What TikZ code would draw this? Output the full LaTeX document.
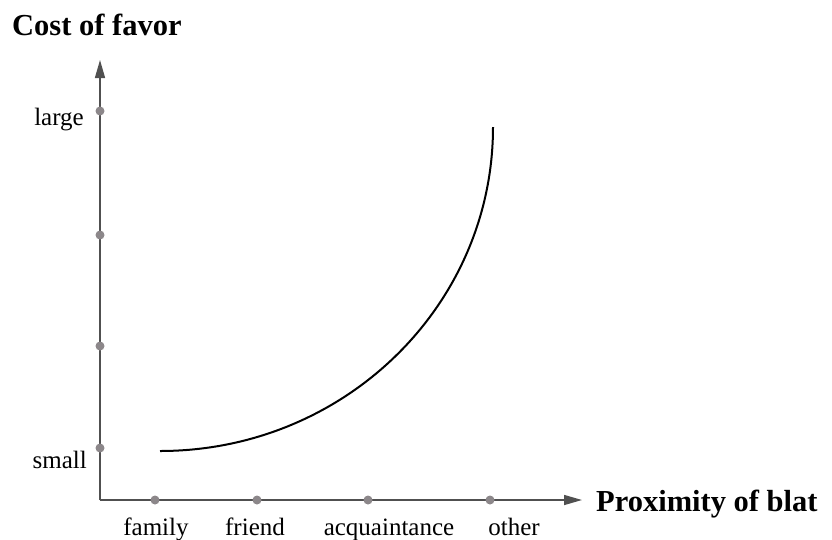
\documentclass[tikz,border=0pt]{standalone}
\usepackage{fontspec}
\setmainfont{Liberation Serif}
\usepackage{tikz}
\usetikzlibrary{arrows.meta}
\definecolor{axisgray}{RGB}{80,80,80}
\definecolor{dotgray}{RGB}{140,135,138}

\begin{document}
\begin{tikzpicture}[x=1pt,y=-1pt,
  axis/.style={line width=1.5pt,draw=axisgray,-{Triangle[length=18pt,width=10pt]}},
  tick/.style={circle,fill=dotgray,inner sep=0pt,minimum size=9pt},
  lab/.style={font=\fontsize{25}{28}\selectfont,inner sep=0pt,anchor=base},
  ttl/.style={font=\fontsize{30.5}{34}\selectfont\bfseries,inner sep=0pt,anchor=base west}]
\useasboundingbox (0,0) rectangle (832,539);

 \coordinate (o) at (100,500);
 \coordinate (ytop) at (100,60);
 \coordinate (xend) at (582,500);

\coordinate (C0) at (160,451);
\coordinate (C1) at (493,127);

\draw[axis] (o)--(ytop);
\draw[axis] (o)--(xend);

\node [tick] (yl) at (100,111) {};
\node [tick] (y2) at (100,235) {};
\node [tick] (y3) at (100,346) {};
\node [tick] (ys) at (100,448) {};

\node [tick] (xfam) at (155,500) {};
\node [tick] (xfri) at (257,500) {};
\node [tick] (xacq) at (368,500) {};
\node [tick] (xoth) at (490,500) {};

\draw[line width=2pt] (C0) .. controls (344,451) and (493,306) .. (C1);

\node [ttl] (costlab) at (12,35) {Cost of favor};
\node [ttl] (proxlab) at (596,511) {Proximity of blat};

\node [lab,anchor=base east] (large) at (84,125) {large};
\node [lab,anchor=base east] (small) at (87,468) {small};

\node [lab] (family) at (156,535) {family};
\node [lab] (friend) at (255,535) {friend};
\node [lab] (acq) at (389,535) {acquaintance};
\node [lab] (other) at (514,535) {other};

\end{tikzpicture}
\end{document}
